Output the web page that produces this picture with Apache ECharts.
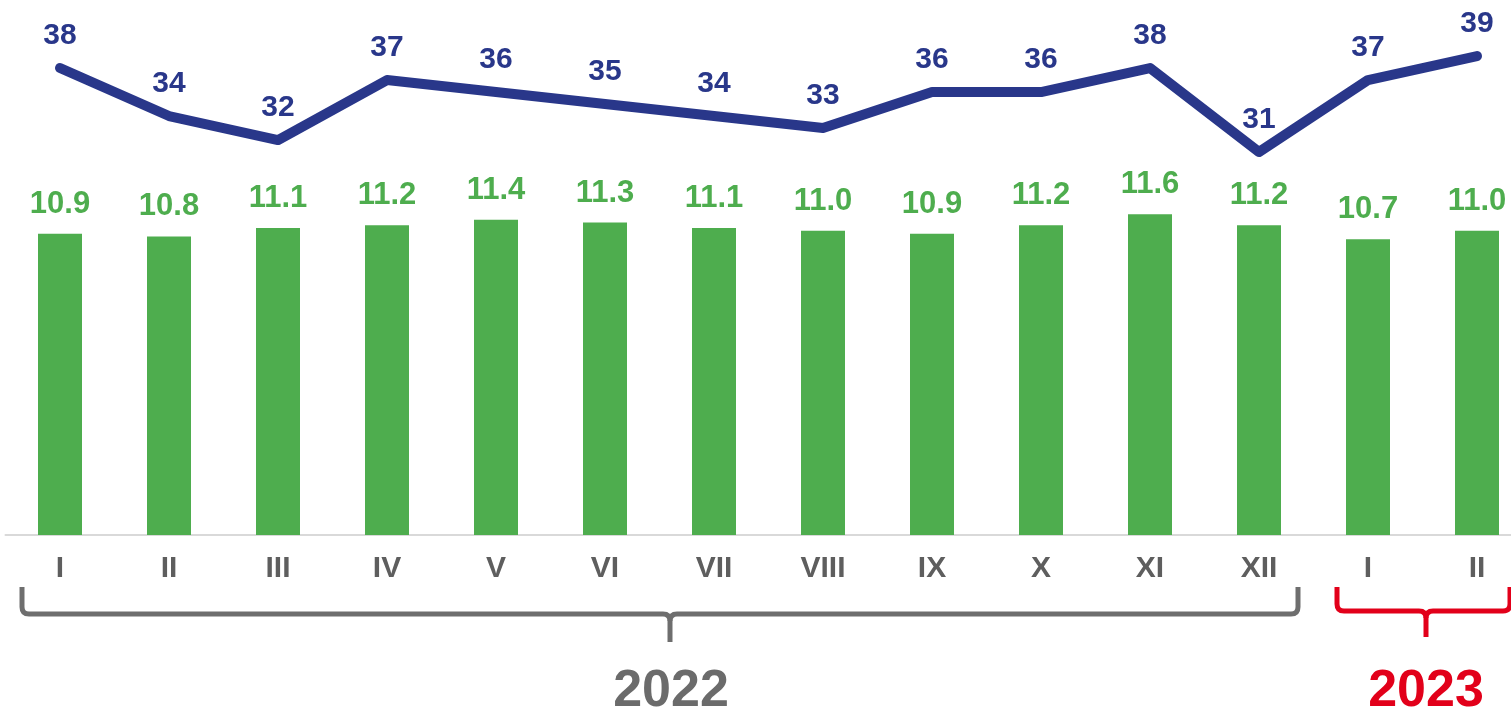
<!DOCTYPE html>
<html>
<head>
<meta charset="utf-8">
<script src="https://cdn.jsdelivr.net/npm/echarts@6/dist/echarts.min.js"></script>
<style>
html,body{margin:0;padding:0;background:#fff;}
#chart{width:1511px;height:713px;}
</style>
</head>
<body>
<div id="chart"></div>
<script>
var months = ['I','II','III','IV','V','VI','VII','VIII','IX','X','XI','XII','I','II'];
var barValues = [10.9,10.8,11.1,11.2,11.4,11.3,11.1,11.0,10.9,11.2,11.6,11.2,10.7,11.0];
var lineValues = [38,34,32,37,36,35,34,33,36,36,38,31,37,39];
var years = ['2022','2023'];

var FONT = 'Arial, "Liberation Sans", sans-serif';
var GREEN = '#4EAD4E';
var NAVY = '#29378A';
var GRAY = '#6B6B6B';
var RED = '#E2001A';

// brace decoration builder: x0..x1 ends, xm middle tick
function brace(x0, x1, xm, yTop, yBar, yTip, color) {
  var r = 7, w = 5, els = [];
  function line(a, b, c, d) {
    els.push({type: 'line', shape: {x1: a, y1: b, x2: c, y2: d}, style: {stroke: color, lineWidth: w, lineCap: 'butt'}});
  }
  function curve(a, b, cx, cy, c, d) {
    els.push({type: 'bezierCurve', shape: {x1: a, y1: b, cpx1: cx, cpy1: cy, x2: c, y2: d}, style: {stroke: color, lineWidth: w, fill: null}});
  }
  line(x0, yTop, x0, yBar - r);
  curve(x0, yBar - r, x0, yBar, x0 + r, yBar);
  line(x0 + r, yBar, xm - r, yBar);
  curve(xm - r, yBar, xm, yBar, xm, yBar + r);
  curve(xm + r, yBar, xm, yBar, xm, yBar + r);
  line(xm, yBar + r, xm, yTip);
  line(xm + r, yBar, x1 - r, yBar);
  curve(x1 - r, yBar, x1, yBar, x1, yBar - r);
  line(x1, yBar - r, x1, yTop);
  return els;
}

var chart = echarts.init(document.getElementById('chart'), null, {renderer:'canvas'});

var graphics = []
  .concat(brace(22, 1298, 670, 587, 614, 642, '#6E6E6E'))
  .concat(brace(1337, 1510, 1426, 587, 611, 637, RED))
  .concat([
    {type: 'text', x: 671, y: 692,
     style: {text: years[0], fill: GRAY, font: 'bold 52px ' + FONT, textAlign: 'center', textVerticalAlign: 'middle'}},
    {type: 'text', x: 1426, y: 692,
     style: {text: years[1], fill: RED, font: 'bold 52px ' + FONT, textAlign: 'center', textVerticalAlign: 'middle'}}
  ]);

var option = {
  animation: false,
  backgroundColor: '#fff',
  grid: {left: 5.5, width: 1526, top: 0, height: 535, containLabel: false, outerBoundsMode: 'none'},
  xAxis: {
    type: 'category',
    data: months,
    axisLine: {show: true, lineStyle: {color: '#D9D9D9', width: 2}},
    axisTick: {show: false},
    axisLabel: {
      color: '#5E5E5E', fontSize: 30, fontWeight: 'bold', fontFamily: FONT,
      margin: 19, interval: 0
    }
  },
  yAxis: [
    {type: 'value', min: 0, max: 19.35, show: false, splitLine: {show: false}},
    {type: 'value', min: -0.92, max: 43.67, show: false, splitLine: {show: false}}
  ],
  series: [
    {
      type: 'bar',
      data: barValues,
      barWidth: 44,
      itemStyle: {color: GREEN},
      label: {
        show: true, position: 'top', distance: 14,
        color: GREEN, fontSize: 31, fontWeight: 'bold', fontFamily: FONT,
        formatter: function (p) { return p.value.toFixed(1); }
      }
    },
    {
      type: 'line',
      yAxisIndex: 1,
      data: lineValues,
      showSymbol: true,
      symbol: 'circle',
      symbolSize: 2,
      itemStyle: {color: NAVY},
      lineStyle: {color: NAVY, width: 10, cap: 'round', join: 'round'},
      label: {
        show: true, position: 'top', distance: 16,
        color: NAVY, fontSize: 30, fontWeight: 'bold', fontFamily: FONT
      },
      labelLayout: {hideOverlap: false},
      z: 3
    }
  ],
  graphic: graphics
};
chart.setOption(option);
</script>
</body>
</html>
